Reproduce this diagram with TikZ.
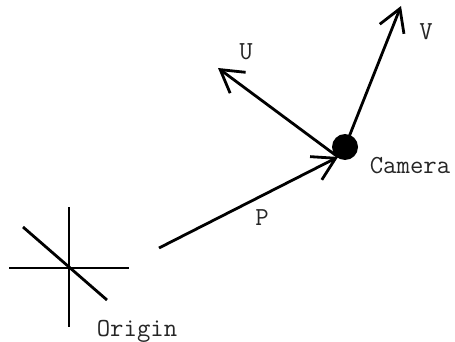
\documentclass[tikz,border=0pt]{standalone}
\usepackage{tikz}
\usetikzlibrary{arrows.meta}

\begin{document}
\begin{tikzpicture}[
  x=0.5pt, y=-0.5pt,
  font=\ttfamily\fontsize{13}{15}\selectfont,
  >={Straight Barb[length=11pt,width=13pt]},
  vec/.style={->, line width=1.4pt},
  axis/.style={line width=1.4pt},
  dot/.style={circle, fill=black, inner sep=0pt, minimum size=13pt},
  lab/.style={text=black!85},
]
  \useasboundingbox (0,0) rectangle (455,342);
  % origin cross
  \coordinate (origin) at (69,268);
  \draw[axis] (origin) ++(0,-61) -- ++(0,120);
  \draw[axis] (origin) ++(-60,0) -- ++(120,0);
  \draw[axis] (origin) ++(-46,-41) -- ++(84,73);
  \node[lab] (olab) at (137,331) {Origin};
  % camera
  \node[dot] (cam) at (345,147) {};
  \node[lab] (clab) at (410,166) {Camera};
  \coordinate (pstart) at (159,248);
  \coordinate (ptip) at (338,157);
  \coordinate (utip) at (218,68);
  \coordinate (vtip) at (401,6);
  % vectors
  \draw[vec] (pstart) -- (ptip);
  \draw[vec] (ptip) -- (utip);
  \draw[vec] (cam.center) -- (vtip);
  \node[lab] (plab) at (262,218) {P};
  \node[lab] (ulab) at (246,52) {U};
  \node[lab] (vlab) at (426,32) {V};
\end{tikzpicture}
\end{document}
